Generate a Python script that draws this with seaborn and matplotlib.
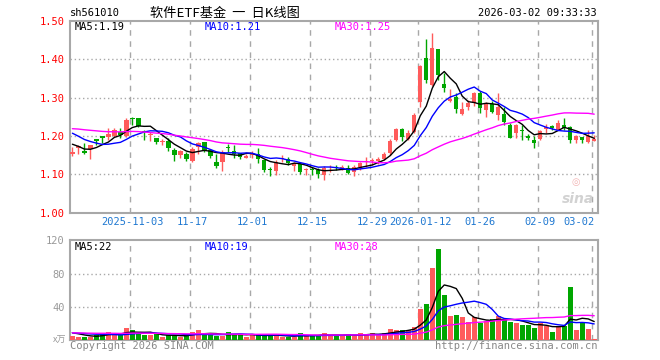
import matplotlib
matplotlib.use('Agg')
import matplotlib.pyplot as plt
import seaborn as sns
import numpy as np
import pandas as pd

# daily bars of sh561010, 2025-10-20 .. 2026-03-02 (88 sessions)
open_ = [1.154, 1.170, 1.161, 1.165, 1.192, 1.197, 1.197, 1.201, 1.211, 1.201,
         1.247, 1.246, 1.211, 1.203, 1.196, 1.184, 1.188, 1.164, 1.150, 1.153,
         1.136, 1.172, 1.184, 1.164, 1.133, 1.133, 1.171, 1.161, 1.155, 1.143,
         1.151, 1.153, 1.137, 1.114, 1.110, 1.140, 1.140, 1.122, 1.126, 1.111,
         1.112, 1.111, 1.098, 1.109, 1.118, 1.116, 1.116, 1.107, 1.118, 1.132,
         1.135, 1.136, 1.140, 1.155, 1.190, 1.219, 1.192, 1.211, 1.290, 1.404,
         1.334, 1.427, 1.336, 1.292, 1.303, 1.257, 1.276, 1.285, 1.313, 1.268,
         1.283, 1.255, 1.257, 1.229, 1.209, 1.216, 1.197, 1.190, 1.191, 1.218,
         1.226, 1.217, 1.229, 1.224, 1.190, 1.198, 1.185, 1.188]
close = [1.158, 1.172, 1.155, 1.177, 1.188, 1.196, 1.205, 1.216, 1.203, 1.242,
         1.245, 1.226, 1.210, 1.205, 1.184, 1.186, 1.168, 1.150, 1.161, 1.139,
         1.166, 1.183, 1.164, 1.149, 1.122, 1.159, 1.169, 1.153, 1.146, 1.148,
         1.156, 1.140, 1.111, 1.112, 1.133, 1.142, 1.129, 1.130, 1.105, 1.113,
         1.111, 1.101, 1.117, 1.110, 1.117, 1.120, 1.104, 1.120, 1.129, 1.133,
         1.136, 1.137, 1.152, 1.187, 1.219, 1.197, 1.209, 1.256, 1.383, 1.345,
         1.430, 1.359, 1.324, 1.296, 1.271, 1.270, 1.287, 1.313, 1.274, 1.283,
         1.263, 1.276, 1.237, 1.196, 1.229, 1.214, 1.196, 1.181, 1.212, 1.224,
         1.220, 1.235, 1.222, 1.190, 1.200, 1.190, 1.200, 1.190]
high = [1.172, 1.177, 1.181, 1.177, 1.192, 1.201, 1.220, 1.220, 1.220, 1.246,
        1.250, 1.246, 1.216, 1.210, 1.196, 1.191, 1.194, 1.168, 1.164, 1.159,
        1.172, 1.185, 1.185, 1.166, 1.152, 1.164, 1.178, 1.177, 1.157, 1.152,
        1.160, 1.168, 1.137, 1.120, 1.137, 1.151, 1.146, 1.133, 1.128, 1.117,
        1.120, 1.117, 1.121, 1.124, 1.124, 1.124, 1.124, 1.124, 1.133, 1.146,
        1.142, 1.146, 1.159, 1.191, 1.220, 1.220, 1.215, 1.259, 1.385, 1.453,
        1.468, 1.427, 1.364, 1.322, 1.311, 1.290, 1.294, 1.316, 1.317, 1.290,
        1.292, 1.313, 1.276, 1.233, 1.231, 1.229, 1.205, 1.200, 1.216, 1.231,
        1.229, 1.242, 1.248, 1.226, 1.203, 1.198, 1.217, 1.203]
low = [1.148, 1.152, 1.152, 1.139, 1.177, 1.181, 1.189, 1.198, 1.194, 1.198,
       1.229, 1.224, 1.189, 1.188, 1.178, 1.177, 1.161, 1.136, 1.142, 1.136,
       1.133, 1.152, 1.159, 1.143, 1.116, 1.110, 1.159, 1.142, 1.139, 1.142,
       1.142, 1.129, 1.105, 1.096, 1.098, 1.133, 1.125, 1.109, 1.100, 1.098,
       1.098, 1.091, 1.085, 1.107, 1.111, 1.111, 1.100, 1.097, 1.111, 1.120,
       1.124, 1.127, 1.138, 1.150, 1.186, 1.186, 1.190, 1.209, 1.275, 1.337,
       1.330, 1.345, 1.314, 1.289, 1.259, 1.255, 1.268, 1.278, 1.259, 1.250,
       1.259, 1.242, 1.229, 1.194, 1.196, 1.190, 1.190, 1.168, 1.189, 1.209,
       1.216, 1.216, 1.216, 1.181, 1.183, 1.183, 1.183, 1.186]
volume = [5.2, 4, 4, 4.4, 6.4, 8.8, 10, 6.4, 6, 14.8,
          12.4, 8.8, 6, 6.8, 7.2, 4.4, 6, 6, 4, 6.8,
          10, 12.4, 6.4, 6, 5.6, 5.6, 10, 7.6, 6, 4,
          7.2, 6, 6, 6, 6, 4.4, 4, 4.4, 8.8, 5.2,
          6, 5.2, 8.8, 6.4, 5.6, 5.2, 7.6, 5.6, 8.8, 6.4,
          8.4, 6.4, 8.8, 13.6, 12.4, 12.4, 12.4, 16, 37.6, 43.6,
          86.8, 109.6, 54.4, 29.2, 30.4, 28, 22, 28, 20.8, 22.8,
          25.6, 29.2, 25.6, 22, 20.8, 18.4, 18.4, 14.8, 21, 17.5,
          10.5, 17.5, 17.5, 64, 12.4, 20.8, 13.6, 1.6]

# sessions before the window, only there to seed the moving averages
prev_close = [1.20, 1.21, 1.22, 1.23, 1.24, 1.23, 1.22, 1.21, 1.22, 1.23,
              1.24, 1.25, 1.24, 1.23, 1.22, 1.22, 1.23, 1.22, 1.21, 1.23,
              1.25, 1.24, 1.23, 1.23, 1.23, 1.20, 1.19, 1.18, 1.165]
prev_volume = [9, 8, 9, 10, 9, 8, 9, 10, 9, 8,
               9, 10, 9, 8, 9, 10, 9, 8, 9, 10,
               9, 8, 9, 10, 9, 10, 11, 10, 9]

tick_idx = [10, 20, 30, 40, 50, 58, 68, 78, 87]
tick_lab = ['2025-11-03', '11-17', '12-01', '12-15', '12-29',
            '2026-01-12', '01-26', '02-09', '03-02']
price_ticks = [1.00, 1.10, 1.20, 1.30, 1.40, 1.50]
vol_ticks = [40, 80, 120]

RED = '#ff5b5b'
GREEN = '#00a600'
GRID = '#a8a8a8'

sns.set_theme(style='white')
plt.rcParams['font.family'] = ['DejaVu Sans Mono', 'Noto Sans CJK SC']

n = len(close)
df = pd.DataFrame({'i': np.arange(n), 'open': open_, 'close': close,
                   'high': high, 'low': low, 'volume': volume})
df['dir'] = np.where(df['close'] >= df['open'], 'up', 'down')

cl = pd.Series(prev_close + close)
vo = pd.Series(prev_volume + volume)
k = len(prev_close)
for w in (5, 10, 30):
    df[f'ma{w}'] = cl.rolling(w).mean().iloc[k:].values
    df[f'vma{w}'] = vo.rolling(w).mean().iloc[k:].values

W, H = 660, 360
fig = plt.figure(figsize=(W / 100, H / 100), dpi=100)
ax1 = fig.add_axes([70.3 / W, 1 - 212.7 / H, 527.2 / W, 191.7 / H])
ax2 = fig.add_axes([70.3 / W, 1 - 340.3 / H, 527.2 / W, 100 / H])

pal = {'up': RED, 'down': GREEN}
cols = df['dir'].map(pal)

# candles
ax1.vlines(df['i'], df['low'], df['high'], colors=cols, lw=1, zorder=3)
body = (df['close'] - df['open']).abs().clip(lower=0.003)
ax1.bar(df['i'], body, bottom=df[['open', 'close']].min(axis=1),
        width=0.72, color=cols, lw=0, zorder=3)

ma_cols = {5: 'black', 10: '#0000ff', 30: '#ff00ff'}
for w, c in ma_cols.items():
    sns.lineplot(x=df['i'], y=df[f'ma{w}'], ax=ax1, color=c, lw=1, zorder=4)

# volume
sns.barplot(data=df, x='i', y='volume', hue='dir', palette=pal, native_scale=True,
            dodge=False, width=0.8, errorbar=None, saturation=1, legend=False,
            linewidth=0, ax=ax2, zorder=3)
for w, c in ma_cols.items():
    sns.lineplot(x=df['i'], y=df[f'vma{w}'], ax=ax2, color=c, lw=1, zorder=4)

for ax in (ax1, ax2):
    ax.set_xlim(-0.35, 87.55)
    ax.set_xlabel('')
    ax.set_ylabel('')
    for s in ax.spines.values():
        s.set_color(GRID)
        s.set_linewidth(1.5)
    for t in tick_idx:
        ax.axvline(t - 0.33, color=GRID, lw=1, ls=(0, (4, 4)), zorder=1)

ax1.set_ylim(1.0, 1.5)
for y in price_ticks[1:-1]:
    ax1.axhline(y, color=GRID, lw=1, ls=(0, (1, 2)), zorder=1)
ax1.set_yticks(price_ticks, [f'{v:.2f}' for v in price_ticks])
ax1.tick_params(axis='y', length=0, labelcolor='#ff0000', labelsize=7.5, pad=4)
ax1.set_xticks(tick_idx, tick_lab)
ax1.tick_params(axis='x', length=0, labelcolor='#1f78d1', labelsize=7.5, pad=3)
ax1.get_xticklabels()[-1].set_ha('right')

ax2.set_ylim(0, 120)
for y in vol_ticks[:-1]:
    ax2.axhline(y, color=GRID, lw=1, ls=(0, (1, 2)), zorder=1)
ax2.set_yticks(vol_ticks, [str(v) for v in vol_ticks])
ax2.tick_params(axis='y', length=0, labelcolor='#999999', labelsize=7.5, pad=4)
ax2.set_xticks([])


def ftext(px, py, s, **kw):
    kw.setdefault('fontsize', 7.5)
    kw.setdefault('va', 'center')
    fig.text(px / W, 1 - py / H, s, **kw)


ftext(70, 13, 'sh561010', color='black')
ftext(150, 13, '软件ETF基金  一  日K线图', color='black', fontsize=9.5,
      family=['Noto Sans CJK SC', 'DejaVu Sans'])
ftext(597, 13, '2026-03-02 09:33:33', color='black', ha='right')

ftext(75, 27, 'MA5:1.19', color='black')
ftext(205, 27, 'MA10:1.21', color='#0000ff')
ftext(335, 27, 'MA30:1.25', color='#ff00ff')

ftext(75, 247, 'MA5:22', color='black')
ftext(205, 247, 'MA10:19', color='#0000ff')
ftext(335, 247, 'MA30:28', color='#ff00ff')

ftext(66, 340, 'x万', color='#999999', fontsize=6.5, ha='right',
      family=['Noto Sans CJK SC', 'DejaVu Sans'])
ftext(70, 346, 'Copyright 2026 SINA.COM', color='#888888')
ftext(597, 346, 'http://finance.sina.com.cn', color='#888888', ha='right')

# watermark
ftext(576, 182, '◎', color='#f3b5b5', fontsize=7, ha='center',
      family=['DejaVu Sans'])
ftext(578, 199, 'sina', color='#d2d2d2', fontsize=10, ha='center',
      style='italic', weight='bold', family=['DejaVu Sans'])

fig.savefig('out.png', dpi=100, facecolor='white')
